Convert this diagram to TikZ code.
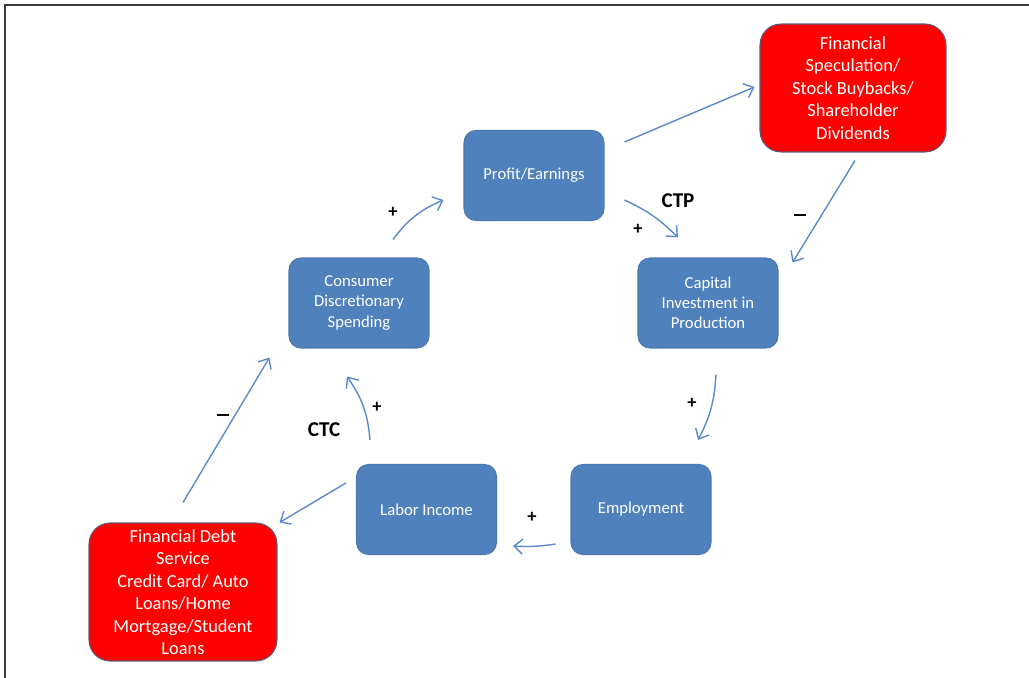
\documentclass[tikz,border=0pt]{standalone}
\usepackage{fontspec}
\setmainfont{Carlito}
\definecolor{loopBlue}{HTML}{4F81BD}
\definecolor{loopEdge}{HTML}{4A78B0}
\definecolor{loopRed}{HTML}{FF0000}
\definecolor{loopRedEdge}{HTML}{5E5A78}
\definecolor{loopArrow}{HTML}{5A8ACB}
\definecolor{frameGray}{HTML}{3C3C3C}
\usetikzlibrary{
	arrows.meta,
	positioning,
	calc
}
\newcommand{\NegSign}{\rule{7pt}{1.3pt}}

\begin{document}
\begin{tikzpicture}[x=0.02cm, y=-0.02cm,
		box/.style={rectangle, rounded corners=6.8pt, draw=loopEdge, line width=0.6pt, fill=loopBlue, text=white, align=center, minimum width=2.8cm, minimum height=1.8cm, font=\fontsize{9.5}{11.4}\selectfont},
		drain/.style={rectangle, rounded corners=12pt, draw=loopRedEdge, line width=0.6pt, fill=loopRed, text=white, align=center, font=\fontsize{10.5}{12.8}\selectfont},
		arrow/.style={-{Straight Barb[length=1.7mm, width=3mm]}, line width=0.8pt, draw=loopArrow},
		sign/.style={font=\fontsize{10.5}{11}\selectfont\bfseries},
		tag/.style={font=\fontsize{12}{12}\selectfont\bfseries}
	]
		\useasboundingbox (0,0) rectangle (1029,678);
		\draw[frameGray, line width=0.9pt] (5,678) -- (5,5) -- (1029,5);
		% the loop
		\node[box] (profit) at (534,175.5) {Profit/Earnings};
		\node[box] (capital) at (708,303) {Capital\\Investment in\\Production};
		\node[box] (employ) at (641,509.5) {Employment};
		\node[box] (labor) at (426.5,509.5) {Labor Income};
		\node[box] (consumer) at (359,303) {Consumer\\Discretionary\\Spending};
		% the leaks
		\node[drain, minimum width=3.72cm, minimum height=2.56cm] (specul) at (853,88) {Financial\\Speculation/\\Stock Buybacks/\\Shareholder\\Dividends};
		\node[drain, minimum width=3.76cm, minimum height=2.76cm] (debt) at (183,592) {Financial Debt\\Service\\Credit Card/ Auto\\Loans/Home\\Mortgage/Student\\Loans};
		\draw[arrow] ([shift={(34,-18)}]consumer.north) to[bend left=15] ([shift={(-20,24.5)}]profit.west);
		\draw[arrow] ([shift={(20,24.5)}]profit.east) to[bend left=10] ([shift={(-30,-20)}]capital.north);
		\draw[arrow] ([shift={(20,-33.5)}]profit.east) -- ([shift={(-5,-1)}]specul.west);
		\draw[arrow] ([shift={(2,8)}]specul.south) -- ([shift={(14,5)}]capital.north east);
		\draw[arrow] ([shift={(8,26)}]capital.south) to[bend left=12] ([shift={(57,-24)}]employ.north);
		\draw[arrow] ([shift={(-15,34.5)}]employ.west) to[bend left=6] ([shift={(16,36.5)}]labor.east);
		\draw[arrow] ([shift={(-56.5,-24)}]labor.north) to[bend right=15] ([shift={(-12,28)}]consumer.south);
		\draw[arrow] ([shift={(-10,-26.5)}]labor.west) -- ([shift={(2,0)}]debt.north east);
		\draw[arrow] ([shift={(0,-20)}]debt.north) -- ([shift={(-19,9)}]consumer.south west);
		% signs and loop names
		\node[sign] (s1) at (393,212) {+};
		\node[sign] (s2) at (638,229) {+};
		\node[sign] (s3) at (692,403) {+};
		\node[sign] (s4) at (532,517) {+};
		\node[sign] (s5) at (377,407) {+};
		\node[sign] (m1) at (800,215) {\NegSign};
		\node[sign] (m2) at (223,415) {\NegSign};
		\node[tag] (ctp) at (678,201) {CTP};
		\node[tag] (ctc) at (324,430) {CTC};
	\end{tikzpicture}
\end{document}
